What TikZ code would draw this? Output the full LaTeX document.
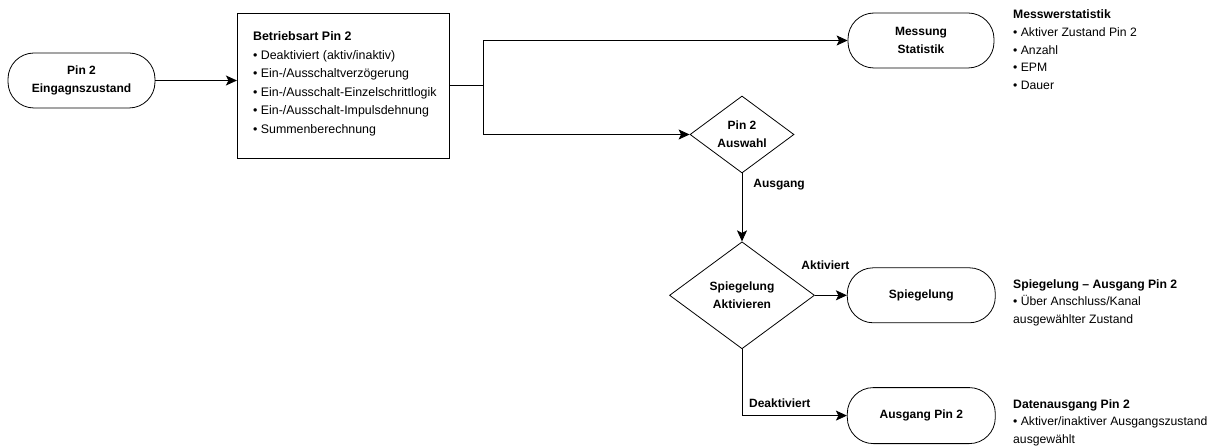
\documentclass[tikz,border=0pt]{standalone}
\usepackage{fontspec}
\setmainfont{Liberation Sans}
\usetikzlibrary{positioning, shapes.geometric, arrows.meta, calc}

\begin{document}
\begin{tikzpicture}[
    x=1pt, y=1pt,
    >={Stealth[length=11pt, width=10pt, inset=2.5pt]},
    % Styles
    base/.style={draw, line width=0.8pt, align=center, inner sep=0pt, font=\fontsize{12}{18}\selectfont\bfseries},
    terminal/.style={base, rectangle, rounded corners=26pt, minimum width=147pt, minimum height=55pt},
    decision/.style={base, diamond, aspect=1.35},
    modebox/.style={base, rectangle, minimum width=212pt, minimum height=145pt},
    listtext/.style={align=left, inner sep=0pt, font=\fontsize{12.4}{18.5}\selectfont},
    note/.style={listtext, anchor=north west, font=\fontsize{12.2}{17.8}\selectfont},
    flow/.style={->, line width=0.8pt},
    edgelabel/.style={inner sep=0pt, font=\fontsize{12}{14}\selectfont\bfseries}
]
    \useasboundingbox (0,0) rectangle (1218,-446);

    % --- Input and operating mode ---
    \node [terminal] (in) at (81.5,-80.5) {Pin 2\\Eingagnszustand};
    \node [modebox, right=81.5pt of in, yshift=-5pt] (betrieb) {};
    \node [listtext, anchor=north west] (betriebtext) at ($(betrieb.north west)+(16,-19)$) {%
        \textbf{Betriebsart Pin 2}\\
        • Deaktiviert (aktiv/inaktiv)\\
        • Ein-/Ausschaltverzögerung\\
        • Ein-/Ausschalt-Einzelschrittlogik\\
        • Ein-/Ausschalt-Impulsdehnung\\
        • Summenberechnung};

    % --- Statistics and selection ---
    \node [terminal, minimum width=146pt] (messung) at (921,-40.5) {Messung\\Statistik};
    \node [decision, minimum width=104pt, minimum height=77pt] (auswahl) at (742,-134.5) {Pin 2\\Auswahl};

    % --- Mirroring / output ---
    \node [decision, minimum width=145pt, minimum height=107pt, below=68pt of auswahl] (aktiv) {Spiegelung\\Aktivieren};
    \node [terminal, minimum width=148pt, right=32pt of aktiv] (spiegel) {Spiegelung};
    \node [terminal, minimum width=148pt, minimum height=56pt, below=64pt of spiegel] (ausgang) {Ausgang Pin 2};

    % --- Notes ---
    \node [note] (messnote) at (1013,-9.5) {%
        \textbf{Messwerstatistik}\\
        • Aktiver Zustand Pin 2\\
        • Anzahl\\
        • EPM\\
        • Dauer};
    \node [note] (spiegelnote) at (1013,-279) {%
        \textbf{Spiegelung – Ausgang Pin 2}\\
        • Über Anschluss/Kanal\\
        ausgewählter Zustand};
    \node [note] (ausgangnote) at (1013,-399) {%
        \textbf{Datenausgang Pin 2}\\
        • Aktiver/inaktiver Ausgangszustand\\
        ausgewählt};

    % --- Connections ---
    \coordinate [right=34pt of betrieb.east] (split);
    \draw [flow] (in.east) -- (in.east -| betrieb.west);
    \draw [line width=0.8pt] (betrieb.east) -- (split);
    \draw [flow] (split) |- (messung.west);
    \draw [flow] (split) |- (auswahl.west);
    \draw [flow] (auswahl) -- (aktiv) node [edgelabel, pos=0.17, right=11pt] {Ausgang};
    \draw [flow] (aktiv) -- (spiegel) node [edgelabel, pos=0.33, above=25pt] {Aktiviert};
    \draw [flow] (aktiv.south) |- (ausgang.west) node [edgelabel, pos=0.68, above=7.5pt] {Deaktiviert};

\end{tikzpicture}
\end{document}
